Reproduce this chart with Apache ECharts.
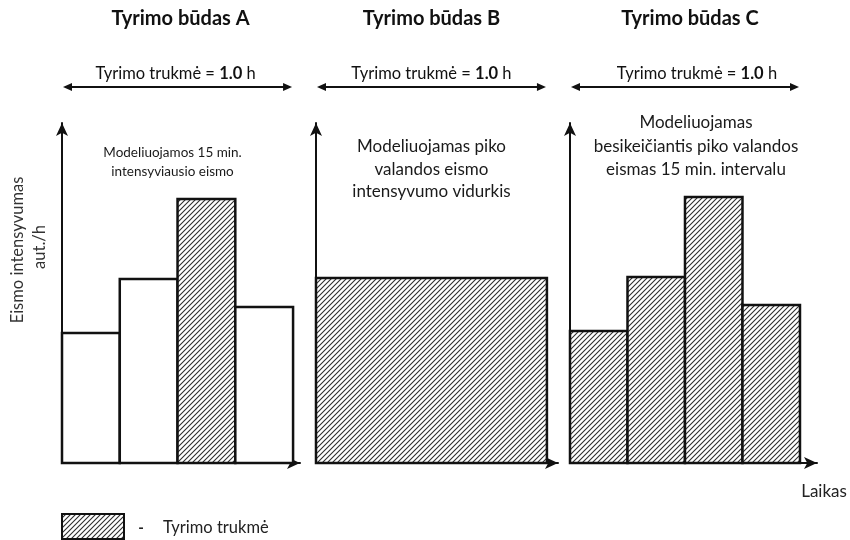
<!DOCTYPE html>
<html><head><meta charset="utf-8">
<script src="https://cdn.jsdelivr.net/npm/echarts@6/dist/echarts.min.js"></script>
<style>html,body{margin:0;padding:0;background:#fff}#c{width:850px;height:540px}</style>
</head><body><div id="c"></div>
<script>
// ---- data ----
const panelTitles = ['Tyrimo būdas A', 'Tyrimo būdas B', 'Tyrimo būdas C'];
const durationLabel = ['Tyrimo trukmė = ', '1.0', ' h'];
const panelNotes = [
  ['Modeliuojamos 15 min.', 'intensyviausio eismo'],
  ['Modeliuojamas piko', 'valandos eismo', 'intensyvumo vidurkis'],
  ['Modeliuojamas', 'besikeičiantis piko valandos', 'eismas 15 min. intervalu']
];
const yAxisName = ['Eismo intensyvumas', 'aut./h'];
const xAxisName = 'Laikas';
const legendLabel = 'Tyrimo trukmė';
// time intervals (hours)
const intervalsA = [[0, 0.25], [0.25, 0.5], [0.5, 0.75], [0.75, 1]];
const intervalsB = [[0, 1]];
const intervalsC = [[0, 0.25], [0.25, 0.5], [0.5, 0.75], [0.75, 1]];
// traffic flow (relative units)
const flowA = [130, 184, 264, 156];
const flowB = [185];
const flowC = [132, 186, 266, 158];
// which intervals are modelled (hatched)
const modelledA = [0, 0, 1, 0];
const modelledB = [1];
const modelledC = [1, 1, 1, 1];
const yMax = 340;

// ---- hatch pattern ----
function makeHatch(size, lw) {
  const cv = document.createElement('canvas');
  cv.width = size; cv.height = size;
  const ctx = cv.getContext('2d');
  ctx.fillStyle = '#fff'; ctx.fillRect(0, 0, size, size);
  ctx.strokeStyle = '#2e2e2e'; ctx.lineWidth = lw; ctx.lineCap = 'square';
  ctx.beginPath();
  ctx.moveTo(0, size); ctx.lineTo(size, 0);
  ctx.moveTo(-1, 1); ctx.lineTo(1, -1);
  ctx.moveTo(size - 1, size + 1); ctx.lineTo(size + 1, size - 1);
  ctx.stroke();
  return cv;
}
const hatch = { image: makeHatch(5, 1.1), repeat: 'repeat' };

function buildData(intervals, flow, modelled) {
  return intervals.map((iv, i) => [iv[0], iv[1], flow[i], modelled[i]]);
}
const panels = [
  buildData(intervalsA, flowA, modelledA),
  buildData(intervalsB, flowB, modelledB),
  buildData(intervalsC, flowC, modelledC)
];

const gridsPx = [
  { left: 62, top: 123, width: 238, height: 340 },
  { left: 316, top: 123, width: 242, height: 340 },
  { left: 570, top: 123, width: 247, height: 340 }
];
const xMax = [1.030, 1.048, 1.074];

const chart = echarts.init(document.getElementById('c'), null, { renderer: 'canvas' });
const FONT = 'Lato, "Open Sans", sans-serif';

function renderBar(params, api) {
  const x0 = api.value(0), x1 = api.value(1), v = api.value(2), m = api.value(3);
  const p0 = api.coord([x0, 0]);
  const p1 = api.coord([x1, v]);
  return {
    type: 'rect',
    shape: { x: p0[0], y: p1[1], width: p1[0] - p0[0], height: p0[1] - p1[1] },
    style: { fill: m ? hatch : '#fff', stroke: '#111', lineWidth: 2.5 }
  };
}

const axisLine = { show: true, lineStyle: { color: '#111', width: 2 }, symbol: ['none', 'arrow'], symbolSize: [9, 13], symbolOffset: [0, 0] };

chart.setOption({
  animation: false,
  backgroundColor: '#fff',
  grid: gridsPx.map(g => Object.assign({ containLabel: false }, g)),
  xAxis: gridsPx.map((g, i) => ({
    type: 'value', gridIndex: i, min: 0, max: xMax[i],
    axisLine: axisLine, axisTick: { show: false }, axisLabel: { show: false }, splitLine: { show: false }
  })),
  yAxis: gridsPx.map((g, i) => ({
    type: 'value', gridIndex: i, min: 0, max: yMax,
    axisLine: axisLine, axisTick: { show: false }, axisLabel: { show: false }, splitLine: { show: false }
  })),
  series: panels.map((d, i) => ({
    type: 'custom', xAxisIndex: i, yAxisIndex: i, data: d, renderItem: renderBar, clip: false, z: 3
  }))
});

// ---- annotations ----
const graphics = [];
const arrowY = 87;
const noteFont = [13.5, 17, 17];
panels.forEach((d, i) => {
  const left = chart.convertToPixel({ gridIndex: i }, [d[0][0], 0]);
  const right = chart.convertToPixel({ gridIndex: i }, [d[d.length - 1][1], 0]);
  const cx = (left[0] + right[0]) / 2;
  graphics.push({
    type: 'text', x: cx + [3, 0, 5][i], y: 19,
    style: { text: panelTitles[i], font: 'bold 20px ' + FONT, fill: '#111', align: 'center', verticalAlign: 'middle' }
  });
  graphics.push({
    type: 'text', x: cx + [-2, 0, 12][i], y: 74,
    style: {
      text: '{a|' + durationLabel[0] + '}{b|' + durationLabel[1] + '}{a|' + durationLabel[2] + '}',
      align: 'center', verticalAlign: 'middle',
      rich: { a: { font: '16.5px ' + FONT, fill: '#111' }, b: { font: 'bold 16.5px ' + FONT, fill: '#111' } }
    }
  });
  // double arrow
  const xl = left[0] + 1, xr = right[0] - 1;
  graphics.push({ type: 'line', shape: { x1: xl + 6, y1: arrowY, x2: xr - 6, y2: arrowY }, style: { stroke: '#111', lineWidth: 2 } });
  graphics.push({ type: 'polygon', shape: { points: [[xl, arrowY], [xl + 9, arrowY - 4], [xl + 9, arrowY + 4]] }, style: { fill: '#111' } });
  graphics.push({ type: 'polygon', shape: { points: [[xr, arrowY], [xr - 9, arrowY - 4], [xr - 9, arrowY + 4]] }, style: { fill: '#111' } });
  // notes
  const noteTop = [153, 147, 123][i];
  const lh = [19, 22.5, 23.5][i];
  panelNotes[i].forEach((line, k) => {
    graphics.push({
      type: 'text', x: cx + [-5, 0, 11][i], y: noteTop + k * lh,
      style: { text: line, font: noteFont[i] + 'px ' + FONT, fill: '#1a1a1a', align: 'center', verticalAlign: 'middle' }
    });
  });
});
// y axis name (rotated)
graphics.push({
  type: 'text', x: 18, y: 250, rotation: Math.PI / 2,
  style: { text: yAxisName[0], font: '16.5px ' + FONT, fill: '#333', align: 'center', verticalAlign: 'middle' }
});
graphics.push({
  type: 'text', x: 40, y: 247, rotation: Math.PI / 2,
  style: { text: yAxisName[1], font: '16.5px ' + FONT, fill: '#333', align: 'center', verticalAlign: 'middle' }
});
// x axis name
graphics.push({
  type: 'text', x: 824, y: 492,
  style: { text: xAxisName, font: '17px ' + FONT, fill: '#222', align: 'center', verticalAlign: 'middle' }
});
// legend
graphics.push({
  type: 'rect', shape: { x: 62, y: 514, width: 62, height: 25 },
  style: { fill: hatch, stroke: '#111', lineWidth: 2 }
});
graphics.push({
  type: 'text', x: 141, y: 528,
  style: { text: '-', font: 'bold 15px ' + FONT, fill: '#222', align: 'center', verticalAlign: 'middle' }
});
graphics.push({
  type: 'text', x: 163, y: 528,
  style: { text: legendLabel, font: '16.5px ' + FONT, fill: '#222', align: 'left', verticalAlign: 'middle' }
});
chart.setOption({ graphic: graphics });
</script>
</body></html>
